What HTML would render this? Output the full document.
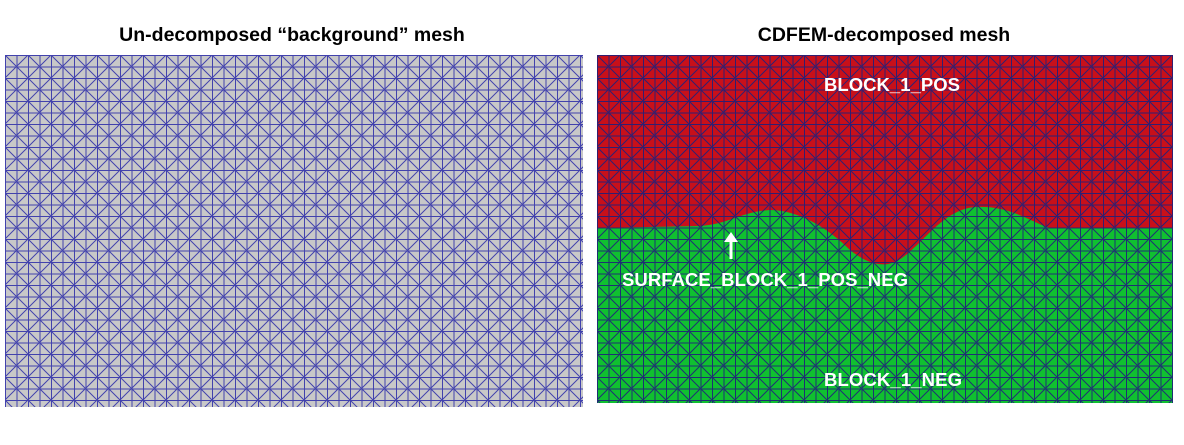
<!DOCTYPE html>
<html><head><style>
body{margin:0;background:#fff;width:1184px;height:440px;overflow:hidden}
</style></head><body>
<svg width="1184" height="440" xmlns="http://www.w3.org/2000/svg">
<defs>
<pattern id="m" width="23" height="23" patternUnits="userSpaceOnUse" x="5" y="55">
<g stroke="#2a2aa8" stroke-width="1" fill="none" opacity="0.85">
<path d="M0 0.5H23M0 12H23M0.5 0V23M12 0V23"/>
<path d="M0 0L23 23M23 0L0 23"/>
</g>
</pattern>
<pattern id="m2" width="23" height="23" patternUnits="userSpaceOnUse" x="597" y="55">
<g stroke="#1f1f7a" stroke-width="1" fill="none" opacity="0.9">
<path d="M0 0.5H23M0 12H23M0.5 0V23M12 0V23"/>
<path d="M0 0L23 23M23 0L0 23"/>
</g>
</pattern>
</defs>
<text x="292" y="41" font-family="Liberation Sans, sans-serif" font-size="19.5" font-weight="bold" text-anchor="middle">Un-decomposed “background” mesh</text>
<text x="884" y="41" font-family="Liberation Sans, sans-serif" font-size="19.5" font-weight="bold" text-anchor="middle">CDFEM-decomposed mesh</text>
<rect x="5" y="55" width="578" height="352" fill="#c8c8c8"/>
<rect x="5" y="55" width="578" height="352" fill="url(#m)"/>
<rect x="597" y="55" width="576" height="348" fill="#c8101a"/>
<path d="M597 228 L700 226 C730 224 740 212 770 210 C800 210 830 230 850 250 C865 262 880 268 895 262 C920 250 940 210 975 207 C1010 205 1030 222 1050 228 L1173 228 L1173 403 L597 403Z" fill="#10c030"/>
<rect x="597" y="55" width="576" height="348" fill="url(#m2)"/>
<g font-family="Liberation Sans, sans-serif" font-size="18.5" font-weight="bold" fill="#fff">
<text x="824" y="91" textLength="136">BLOCK_1_POS</text>
<text x="622" y="286" textLength="286">SURFACE_BLOCK_1_POS_NEG</text>
<text x="824" y="386" textLength="138">BLOCK_1_NEG</text>
</g>
<path d="M731 259V240" stroke="#fff" stroke-width="3"/>
<path d="M724 242L731 232L738 242Z" fill="#fff"/>
</svg>
</body></html>
